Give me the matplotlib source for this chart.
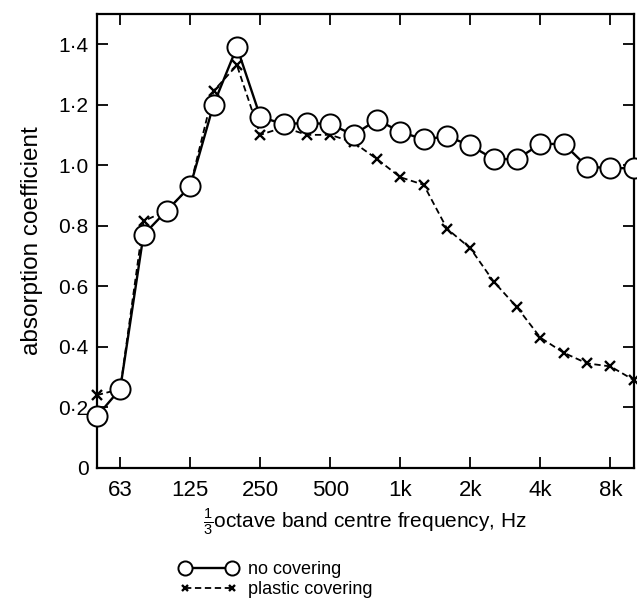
import matplotlib.pyplot as plt
import numpy as np

# 1/3 octave bands, 50 Hz .. 10 kHz
bands = ["50", "63", "80", "100", "125", "160", "200", "250", "315", "400",
         "500", "630", "800", "1k", "1.25k", "1.6k", "2k", "2.5k", "3.15k",
         "4k", "5k", "6.3k", "8k", "10k"]
tick_labels = ["63", "125", "250", "500", "1k", "2k", "4k", "8k"]

no_covering = [0.17, 0.26, 0.77, 0.85, 0.93, 1.20, 1.39, 1.16, 1.135, 1.14,
               1.135, 1.10, 1.15, 1.11, 1.085, 1.095, 1.065, 1.02, 1.02,
               1.07, 1.07, 0.995, 0.99, 0.99]
plastic_covering = [0.24, 0.26, 0.815, 0.85, 0.93, 1.245, 1.33, 1.10, 1.125, 1.10,
                    1.10, 1.075, 1.02, 0.96, 0.935, 0.79, 0.725, 0.615, 0.53,
                    0.43, 0.38, 0.345, 0.335, 0.29]

x = np.arange(len(bands))
tick_pos = [bands.index(t) for t in tick_labels]

plt.rcParams['font.family'] = ['Liberation Sans', 'DejaVu Sans']
plt.rcParams['mathtext.fontset'] = 'custom'
plt.rcParams['mathtext.rm'] = 'Liberation Sans'

fig = plt.figure(figsize=(6.37, 5.99), dpi=100)
ax = fig.add_axes([0.152, 0.219, 0.843, 0.758])

l1, = ax.plot(x, plastic_covering, color='black', linestyle=(0, (3.5, 2)), linewidth=1.3,
              marker='x', markersize=7, markeredgewidth=1.7, clip_on=False, zorder=3)
l2, = ax.plot(x, no_covering, color='black', linestyle='-', linewidth=1.7,
              marker='o', markersize=14.5, markerfacecolor='white', markeredgewidth=1.4,
              clip_on=False, zorder=4)

ax.set_xlim(0, len(bands) - 1)
ax.set_ylim(0, 1.5)
ax.set_xticks(tick_pos)
ax.set_xticklabels(tick_labels)
yt = [0, 0.2, 0.4, 0.6, 0.8, 1.0, 1.2, 1.4]
ax.set_yticks(yt)
ax.set_yticklabels(["0"] + [f"{v:.1f}".replace(".", "\u00b7") for v in yt[1:]])

ax.tick_params(direction='in', length=8, width=1.3, top=True, right=True,
               labelsize=15, pad=6)
ax.tick_params(axis='x', labelsize=16, pad=9)
for s in ax.spines.values():
    s.set_linewidth(1.6)

ax.set_ylabel("absorption coefficient", fontsize=17.5, labelpad=11)
ax.set_xlabel(r"$\frac{1}{3}$octave band centre frequency, Hz", fontsize=15, labelpad=4)

fig.legend([l2, l1], ["no covering", "plastic covering"], loc='upper left',
           bbox_to_anchor=(0.27, 0.075), frameon=False, fontsize=13,
           handlelength=3.2, numpoints=2, labelspacing=0.15, handletextpad=0.6,
           markerscale=0.7, borderaxespad=0)

fig.savefig("out.png", dpi=100)
